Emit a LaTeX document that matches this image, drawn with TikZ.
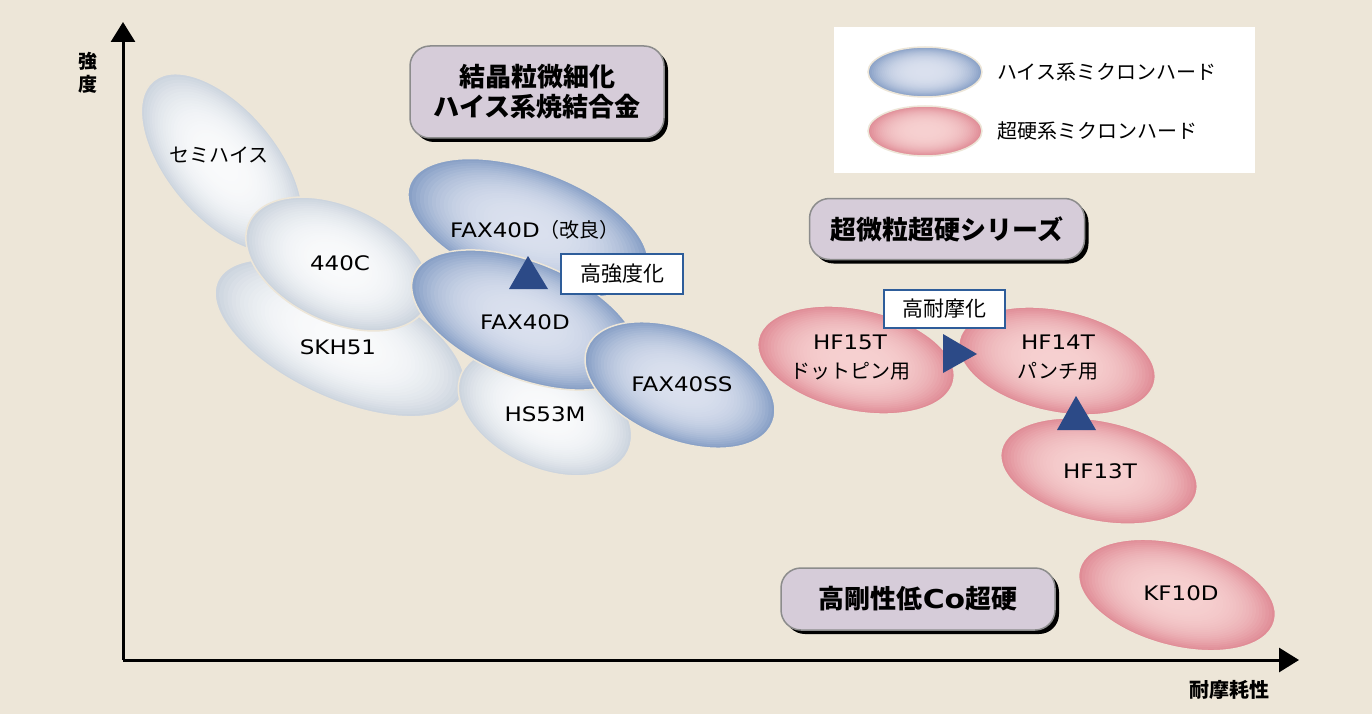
\documentclass[tikz,border=0pt]{standalone}
\usepackage{fontspec}
\setmainfont{Noto Sans CJK JP}
\newfontfamily\latwide[FakeStretch=1.15]{DejaVu Sans}
\newcommand\wl[1]{{\latwide #1}}
\definecolor{bgc}{RGB}{237,230,216}
\definecolor{wedge}{RGB}{204,212,222}
\definecolor{wcen}{RGB}{249,250,251}
\definecolor{bedge}{RGB}{136,160,198}
\definecolor{bcen}{RGB}{218,224,238}
\definecolor{pedge}{RGB}{224,140,150}
\definecolor{pcen}{RGB}{246,208,208}
\definecolor{lav}{RGB}{214,204,217}
\definecolor{navy}{RGB}{44,74,135}
\definecolor{bord}{RGB}{46,93,154}
\newcommand\gell[7]{%
  \begin{scope}[shift={(#1,#2)},rotate=#5]
    \fill[#6] (0,0) ellipse [x radius=#3, y radius=#4];
    \foreach \k in {1,...,26}{
      \pgfmathsetmacro\s{1-\k*0.033}
      \pgfmathsetmacro\p{100*\s*\s*\s}
      \fill[#6!\p!#7] (0,0) ellipse [x radius=\s*#3, y radius=\s*#4];
    }
    \draw[bgc,line width=1.5pt] (0,0) ellipse [x radius=#3, y radius=#4];
  \end{scope}}
\tikzset{
  lbl/.style={font=\fontsize{20}{29}\selectfont, align=center, inner sep=0pt},
  pbox/.style={fill=lav, draw=black!45, line width=1.5pt, rounded corners=20pt,
     font=\bfseries\fontsize{26}{30}\selectfont, align=center, inner sep=0pt},
  pshadow/.style={fill=black, rounded corners=20pt, inner sep=0pt},
  sbox/.style={fill=white, draw=bord, line width=2pt, font=\fontsize{21}{24}\selectfont, inner sep=0pt},
  tri/.style={fill=navy},
  axis/.style={line width=3pt, -{Triangle[length=20pt,width=24pt]}}
}
\usetikzlibrary{arrows.meta}
\begin{document}
\begin{tikzpicture}[x=1pt,y=-1pt]
\useasboundingbox (0,0) rectangle (1372,714);
\fill[bgc] (0,0) rectangle (1372,714);

% axes
\coordinate (o) at (123,660);
\coordinate (ytip) at (123,22);
\coordinate (xtip) at (1299,660);
\draw[axis] (o) -- (ytip);
\draw[axis] (o) -- (xtip);
\node[lbl, font=\bfseries\fontsize{19}{23}\selectfont, align=center] (ylab) at (88,73) {強\\度};
\node[lbl, font=\bfseries\fontsize{20}{22}\selectfont] (xlab) at (1229,690) {耐摩耗性};

% legend
\fill[white] (834,27) rectangle (1255,173);
\gell{925}{72}{57}{25}{0}{bedge}{bcen}
\gell{925}{131}{57}{25}{0}{pedge}{pcen}
\node[lbl, anchor=west] (leg1) at (997,72) {ハイス系ミクロンハード};
\node[lbl, anchor=west] (leg2) at (997,131) {超硬系ミクロンハード};

% white ellipses
\gell{222}{163}{107}{55}{-50}{wedge}{wcen}
\gell{340}{338}{135}{60}{-25}{wedge}{wcen}
\gell{338}{264}{98}{58}{-25}{wedge}{wcen}
\gell{545}{412}{92}{56}{-25}{wedge}{wcen}
% blue ellipses
\gell{528}{228}{126}{58}{-20}{bedge}{bcen}
\gell{525}{320}{120}{58}{-22}{bedge}{bcen}
\gell{680}{385}{100}{55}{-22}{bedge}{bcen}
% pink ellipses
\gell{856}{360}{100}{51}{-12}{pedge}{pcen}
\gell{1099}{471}{100}{50}{-12}{pedge}{pcen}
\gell{1057}{361}{100}{51}{-12}{pedge}{pcen}
\gell{1177}{595}{101}{51}{-15}{pedge}{pcen}

% ellipse labels
\node[lbl] (semi) at (219,155) {セミハイス};
\node[lbl] (c440) at (340,263) {\wl{440C}};
\node[lbl] (skh) at (338,347) {\wl{SKH51}};
\node[lbl] (hs) at (545,414) {\wl{HS53M}};
\node[lbl] (faxk) at (535,230) {\wl{FAX40D}（改良）};
\node[lbl] (fax) at (525,322) {\wl{FAX40D}};
\node[lbl] (faxss) at (682,384) {\wl{FAX40SS}};
\node[lbl] (hf15) at (850,358) {\wl{HF15T}\\ドットピン用};
\node[lbl] (hf14) at (1058,358) {\wl{HF14T}\\パンチ用};
\node[lbl] (hf13) at (1100,471) {\wl{HF13T}};
\node[lbl] (kf) at (1181,593) {\wl{KF10D}};

% purple boxes
\node[pshadow, minimum width=254pt, minimum height=92pt] (b1s) at (541,96) {};
\node[pbox, minimum width=254pt, minimum height=92pt] (b1) at (537,92) {結晶粒微細化\\ハイス系焼結合金};
\node[pshadow, minimum width=275pt, minimum height=61pt] (b2s) at (951,233) {};
\node[pbox, minimum width=275pt, minimum height=61pt] (b2) at (947,229) {超微粒超硬シリーズ};
\node[pshadow, minimum width=274pt, minimum height=62pt] (b3s) at (922,603) {};
\node[pbox, minimum width=274pt, minimum height=62pt] (b3) at (918,599) {高剛性低\wl{Co}超硬};

% small boxes and triangles
\fill[tri] (528,256) -- (548,289) -- (509,289) -- cycle;
\node[sbox, minimum width=122pt, minimum height=40pt] (kyo) at (622,274) {高強度化};
\node[sbox, minimum width=121pt, minimum height=38pt] (tai) at (944.5,309) {高耐摩化};
\fill[tri] (943,334) -- (977,354) -- (943,373) -- cycle;
\fill[tri] (1076,396) -- (1096,430) -- (1057,430) -- cycle;
\end{tikzpicture}
\end{document}
